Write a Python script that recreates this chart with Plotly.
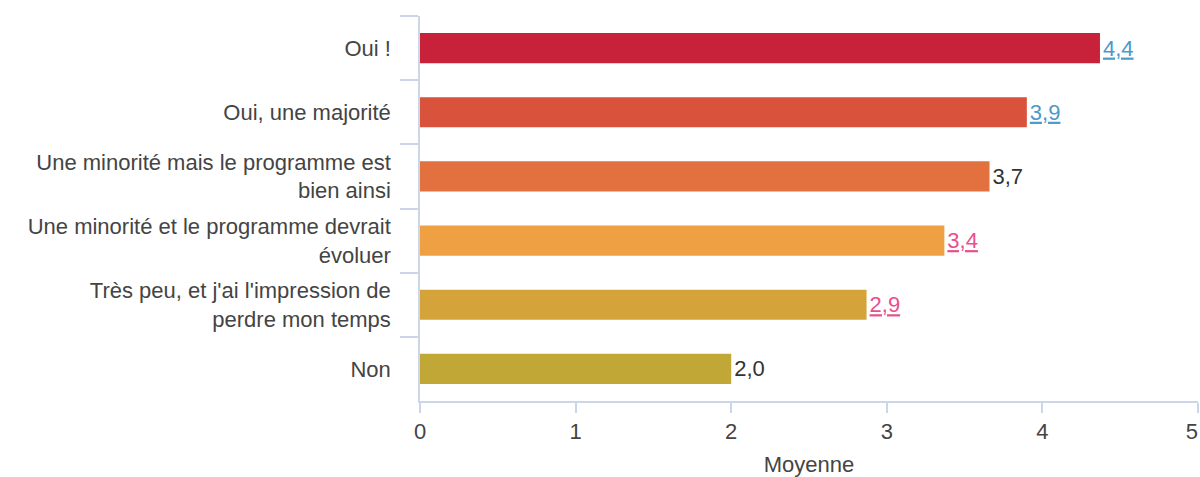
import plotly.graph_objects as go

categories = [
    "Oui !",
    "Oui, une majorité",
    "Une minorité mais le programme est<br>bien ainsi",
    "Une minorité et le programme devrait<br>évoluer",
    "Très peu, et j'ai l'impression de<br>perdre mon temps",
    "Non",
]
values = [4.37, 3.90, 3.66, 3.37, 2.87, 2.00]
bar_colors = ["#C8223A", "#D9523B", "#E2713F", "#EFA043", "#D4A43A", "#C1A735"]
label_colors = ["#4A9ACB", "#4A9ACB", "#333333", "#E8508C", "#E8508C", "#333333"]
label_underline = [True, True, False, True, True, False]
x_ticks = [0, 1, 2, 3, 4, 5]
x_tick_labels = ["0", "1", "2", "3", "4", "5\u00a0\u00a0"]

labels = []
for v, u in zip(values, label_underline):
    s = f"{v:.1f}".replace(".", ",")
    labels.append(f"<u>{s}</u>" if u else s)

axis_col = "#ccd6eb"
font_fam = "Liberation Sans, Arial, sans-serif"
fs = 22

fig = go.Figure(
    go.Bar(
        x=values,
        y=categories,
        orientation="h",
        marker=dict(color=bar_colors, line=dict(width=0)),
        text=labels,
        textposition="outside",
        textfont=dict(color=label_colors, size=fs, family=font_fam),
        cliponaxis=False,
        hoverinfo="skip",
    )
)

fig.update_layout(
    width=1200,
    height=477,
    margin=dict(l=420, r=2, t=16, b=76, autoexpand=False),
    plot_bgcolor="white",
    paper_bgcolor="white",
    bargap=0.53,
    showlegend=False,
    font=dict(family=font_fam, size=fs, color="#444444"),
)

fig.update_xaxes(
    range=[0, 5],
    tickvals=x_ticks,
    ticktext=x_tick_labels,
    ticklabeloverflow="allow",
    automargin=False,
    showgrid=False,
    zeroline=False,
    showline=True,
    linecolor=axis_col,
    linewidth=1.5,
    ticks="outside",
    ticklen=10,
    tickcolor=axis_col,
    tickwidth=1.5,
    tickfont=dict(size=fs, color="#444444"),
    title=dict(text="Moyenne", font=dict(size=fs, color="#444444"), standoff=14),
)

fig.update_yaxes(
    autorange="reversed",
    automargin=False,
    showgrid=False,
    zeroline=False,
    showline=True,
    linecolor=axis_col,
    linewidth=1.5,
    ticks="outside",
    tickson="boundaries",
    ticklen=18,
    tickcolor=axis_col,
    tickwidth=1.5,
    tickfont=dict(size=fs, color="#444444"),
    ticklabelstandoff=23,
)

fig.write_html(
    "out.html",
    config={"displayModeBar": False},
    post_script="document.body.style.margin='0';document.body.style.overflow='hidden';",
)
